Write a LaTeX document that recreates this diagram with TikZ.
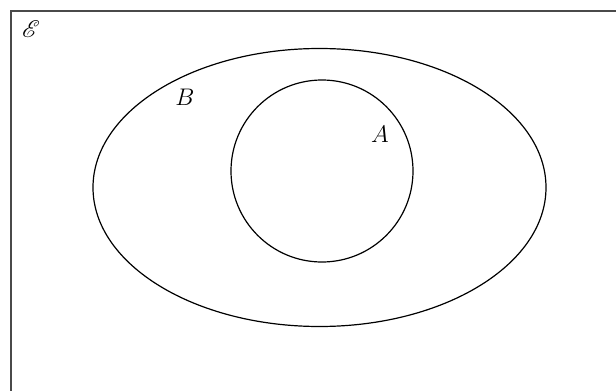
\documentclass[tikz,border=0pt]{standalone}
\usepackage{mathrsfs}
\usepackage{tikz}
\usetikzlibrary{positioning,shapes.geometric}
\definecolor{frameGray}{HTML}{4A4A4A}

\begin{document}
\begin{tikzpicture}[x=0.5pt, y=-0.5pt, font=\fontsize{12}{14}\selectfont,
  setline/.style={draw=black, line width=0.6pt, inner sep=0pt},
  setlabel/.style={inner sep=0pt}]
\useasboundingbox (0,0) rectangle (616,391);
\clip (0,0) rectangle (616,391);
% universal set frame, cut off at right and bottom
\draw[frameGray, line width=0.9pt] (11,420) -- (11,11) -- (640,11);
\node[setlabel] (univ) at (31,29) {$\mathscr{E}$};
% set B with set A inside
\node[setline, ellipse, minimum width=226.5pt, minimum height=139pt] (setB) at (319.5,187.5) {};
\node[setline, circle, minimum size=91pt] (setA) at (322,171) {};
\node[setlabel] (labB) at (185,97) {$B$};
\node[setlabel] (labA) at (380,134) {$A$};
\end{tikzpicture}
\end{document}
